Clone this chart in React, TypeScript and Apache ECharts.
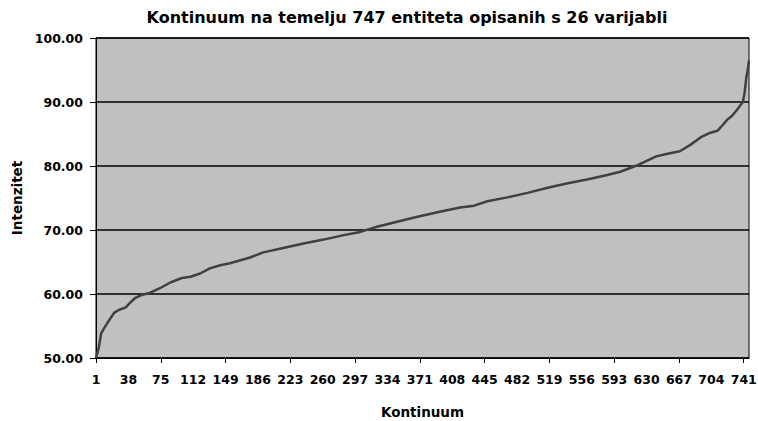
import React, { useEffect, useRef } from "react";
import * as echarts from "echarts";

const TITLE = "Kontinuum na temelju 747 entiteta opisanih s 26 varijabli";
const Y_NAME = "Intenzitet";
const X_NAME = "Kontinuum";
const N_ENTITIES = 747;

// Categories 1..747 (labels of the continuum axis)
const categories: string[] = Array.from({ length: N_ENTITIES }, (_, i) => String(i + 1));

// Points: category number and intensity
const pointCategory = [
  1, 4, 7, 10, 16, 22, 27, 35, 39, 45, 52, 63, 74, 86, 99, 109, 120, 131, 143, 154,
  177, 192, 215, 238, 261, 284, 303, 322, 345, 360, 372, 395, 417, 433, 448, 471,
  494, 517, 540, 562, 585, 600, 621, 641, 654, 668, 680, 692, 703, 711, 715, 722,
  728, 734, 740, 742, 744, 746, 747,
];
const pointValue = [
  50.0, 51.5, 53.9, 54.6, 55.9, 57.1, 57.5, 57.9, 58.5, 59.3, 59.8, 60.2, 60.9, 61.8, 62.5, 62.7, 63.2, 64.0, 64.5, 64.8,
  65.7, 66.5, 67.2, 67.9, 68.5, 69.2, 69.7, 70.5, 71.3, 71.8, 72.2, 72.9, 73.5, 73.8, 74.5, 75.1,
  75.8, 76.6, 77.3, 77.9, 78.6, 79.1, 80.2, 81.5, 81.9, 82.3, 83.3, 84.5, 85.2, 85.5, 86.1, 87.2,
  87.9, 88.9, 90.0, 91.5, 93.9, 95.4, 96.5,
];

const FONT = "'DejaVu Sans', 'Liberation Sans', Arial, sans-serif";

export default function App() {
  const ref = useRef<HTMLDivElement>(null);
  useEffect(() => {
    if (!ref.current) return;
    const chart = echarts.init(ref.current, null, { renderer: "svg" });
    const seriesData = pointCategory.map((c, i) => [c - 1, pointValue[i]]);
    chart.setOption({
      animation: false,
      backgroundColor: "#ffffff",
      title: {
        text: TITLE,
        left: 407,
        top: 9,
        textAlign: "center",
        padding: 0,
        textStyle: { fontFamily: FONT, fontWeight: "bold", fontSize: 16, color: "#000" },
      },
      grid: {
        left: 96,
        top: 38,
        right: 9,
        bottom: 63,
        outerBoundsMode: "none",
        containLabel: false,
        show: true,
        backgroundColor: "#C0C0C0",
        borderColor: "#000",
        borderWidth: 1,
      },
      xAxis: {
        type: "category",
        data: categories,
        boundaryGap: false,
        name: X_NAME,
        nameLocation: "middle",
        nameGap: 47,
        nameTextStyle: { fontFamily: FONT, fontWeight: "bold", fontSize: 13.5, color: "#000" },
        axisLine: { lineStyle: { color: "#000", width: 1 } },
        axisTick: { interval: 73, length: 5, lineStyle: { color: "#000" } },
        axisLabel: {
          interval: 36,
          margin: 15,
          fontFamily: FONT,
          fontWeight: "bold",
          fontSize: 12.5,
          color: "#000",
        },
        splitLine: { show: false },
      },
      yAxis: {
        type: "value",
        min: 50,
        max: 100,
        interval: 10,
        name: Y_NAME,
        nameLocation: "middle",
        nameRotate: 90,
        nameGap: 72,
        nameTextStyle: { fontFamily: FONT, fontWeight: "bold", fontSize: 13.5, color: "#000" },
        axisLine: { show: true, lineStyle: { color: "#000", width: 1 } },
        axisTick: { show: true, length: 6, lineStyle: { color: "#000" } },
        axisLabel: {
          formatter: (v: number) => v.toFixed(2),
          margin: 13,
          fontFamily: FONT,
          fontWeight: "bold",
          fontSize: 12.5,
          color: "#000",
        },
        splitLine: { show: true, lineStyle: { color: "#000", width: 1.5 } },
      },
      series: [
        {
          type: "line",
          data: seriesData,
          showSymbol: false,
          symbol: "none",
          lineStyle: { color: "#404040", width: 2.5 },
        },
      ],
    });
    return () => chart.dispose();
  }, []);
  return (
    <div
      ref={ref}
      style={{ position: "fixed", left: 0, top: 0, width: 758, height: 421, background: "#fff" }}
    />
  );
}
